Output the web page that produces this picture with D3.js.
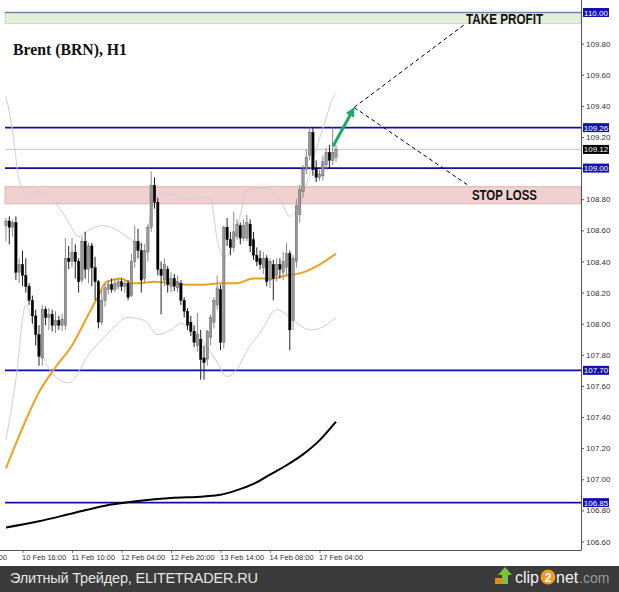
<!DOCTYPE html>
<html><head><meta charset="utf-8">
<script src="https://cdn.jsdelivr.net/npm/d3@7"></script>
<style>html,body{margin:0;padding:0;background:#fff;overflow:hidden}</style>
</head><body>
<svg id="c" width="619" height="592"></svg>
<script>
// ---- data ----
const openP = [
108.63,108.66,108.62,108.65,108.33,108.38,108.31,108.24,108.15,108.05,
107.93,107.78,108.09,108.04,108.06,107.99,108.02,107.99,107.99,108.42,
108.40,108.46,108.40,108.28,108.53,108.35,108.50,108.36,108.27,108.01,
108.15,108.22,108.25,108.22,108.24,108.27,108.24,108.26,108.18,108.40,
108.53,108.47,108.29,108.46,108.62,108.89,108.78,108.35,108.28,108.35,
108.24,108.29,108.23,108.26,108.15,108.08,108.01,107.95,107.86,107.90,
107.78,107.77,107.91,108.01,108.12,108.22,107.88,108.62,108.54,108.49,
108.56,108.63,108.55,108.55,108.64,108.54,108.44,108.42,108.36,108.42,
108.28,108.38,108.31,108.38,108.33,108.36,108.45,108.02,108.40,108.70,
108.85,108.99,109.08,109.23,109.00,108.94,108.95,109.02,109.10,109.05,
109.07];
const highP = [
108.68,108.69,108.67,108.69,108.42,108.47,108.42,108.26,108.18,108.09,
107.99,108.12,108.11,108.10,108.09,108.08,108.05,108.06,108.55,108.50,
108.55,108.51,108.42,108.56,108.59,108.52,108.52,108.43,108.28,108.22,
108.26,108.28,108.29,108.29,108.29,108.29,108.28,108.28,108.45,108.63,
108.61,108.52,108.51,108.64,108.98,108.94,108.81,108.40,108.42,108.37,
108.33,108.32,108.31,108.28,108.17,108.10,108.05,107.99,108.07,107.96,
107.86,107.96,108.06,108.17,108.31,108.25,108.63,108.68,108.59,108.72,
108.67,108.65,108.67,108.70,108.67,108.59,108.49,108.47,108.46,108.44,
108.42,108.41,108.42,108.42,108.46,108.52,108.47,108.44,108.80,108.89,
109.02,109.12,109.26,109.26,109.05,108.99,109.08,109.13,109.15,109.26,
109.15];
const lowP = [
108.53,108.51,108.56,108.28,108.26,108.24,108.20,108.12,108.00,107.86,
107.73,107.73,107.99,107.96,107.95,107.94,107.96,107.95,107.96,108.35,
108.36,108.29,108.20,108.26,108.29,108.26,108.24,108.15,107.97,107.99,
108.11,108.19,108.20,108.20,108.22,108.21,108.20,108.15,108.17,108.36,
108.42,108.20,108.26,108.40,108.59,108.74,108.31,108.06,108.24,108.20,
108.20,108.21,108.20,108.12,108.04,107.96,107.92,107.85,107.82,107.64,
107.64,107.73,107.86,107.97,108.09,107.83,107.84,108.50,108.44,108.46,
108.54,108.51,108.53,108.53,108.46,108.41,108.37,108.35,108.32,108.24,
108.23,108.15,108.27,108.29,108.28,108.31,107.83,107.96,108.36,108.65,
108.81,108.96,109.05,108.95,108.91,108.92,108.92,108.99,109.00,109.02,
109.04];
const closeP = [
108.66,108.62,108.65,108.33,108.38,108.31,108.24,108.15,108.05,107.93,
107.79,108.09,108.04,108.06,107.99,108.02,107.99,108.03,108.42,108.40,
108.46,108.40,108.27,108.53,108.35,108.50,108.36,108.27,108.01,108.15,
108.23,108.25,108.22,108.26,108.27,108.24,108.26,108.17,108.40,108.53,
108.47,108.28,108.47,108.62,108.89,108.78,108.35,108.31,108.38,108.25,
108.29,108.24,108.27,108.15,108.08,107.99,107.95,107.88,107.93,107.77,
107.75,107.95,108.04,108.15,108.23,107.88,108.62,108.54,108.49,108.59,
108.64,108.55,108.63,108.65,108.50,108.44,108.40,108.38,108.42,108.27,
108.40,108.29,108.38,108.35,108.40,108.45,107.96,108.42,108.76,108.86,
108.99,109.07,109.23,108.99,108.94,108.96,109.04,109.10,109.05,109.10,
109.12];

const maFastIdx = [0,5,10,15,20,25,28,30,32,35,38,40,45,50,55,60,65,70,75,80,85,90,95,100];
const maFastVal = [107.07,107.33,107.56,107.72,107.86,108.06,108.18,108.26,108.28,108.29,108.26,108.26,108.27,108.26,108.25,108.25,108.26,108.26,108.29,108.29,108.31,108.33,108.38,108.45];

const maSlowIdx = [0,10,20,30,40,50,60,65,70,75,80,85,90,95,100];
const maSlowVal = [106.69,106.73,106.78,106.83,106.86,106.88,106.89,106.90,106.93,106.97,107.03,107.09,107.16,107.25,107.37];

const bbUpIdx = [0,2,4,7,10,13,16,19,22,25,29,33,38,42,44,47,50,55,60,62,64,66,68,71,73,78,83,86,88,91,93,95,97,99,100];
const bbUpVal = [109.46,109.24,108.92,108.82,108.85,108.81,108.75,108.65,108.56,108.60,108.63,108.61,108.54,108.50,108.73,108.84,108.83,108.80,108.81,108.80,108.54,108.43,108.47,108.70,108.86,108.87,108.80,108.69,108.73,108.89,109.05,109.19,109.32,109.45,109.48];

const bbLoIdx = [0,3,6,9,12,15,19,25,31,37,42,46,50,53,57,61,64,67,70,74,77,82,86,89,92,95,100];
const bbLoVal = [107.25,107.64,108.12,107.93,107.75,107.66,107.62,107.80,107.94,108.04,108.02,107.93,107.96,108.00,107.96,107.85,107.75,107.66,107.71,107.86,107.94,108.09,108.04,107.99,107.96,107.97,108.04];

const levelLines = [109.26, 109.00, 107.70, 106.85];
const levelBoxes = [110.00, 109.26, 109.00, 107.70, 106.85];
const currentPrice = 109.12;
const takeProfitZone = [109.93, 110.00];
const stopLossZone = [108.77, 108.88];

const yTickVals = [109.80,109.60,109.40,109.20,109.00,108.80,108.60,108.40,108.20,108.00,107.80,107.60,107.40,107.20,107.00,106.80,106.60];
const xTickIdx = [-13,5,20,35,50,65,80,95];
const xTickLabels = ["10 Feb 01:00","10 Feb 16:00","11 Feb 10:00","12 Feb 04:00","12 Feb 20:00","13 Feb 14:00","14 Feb 08:00","17 Feb 04:00"];

// annotations (bar index, price)
const arrowFrom = [99.1, 109.14];
const arrowTo = [105.5, 109.39];
const tpEnd = [139.4, 109.93];
const slEnd = [140.0, 108.89];

// ---- drawing ----
const svg = d3.select('#c');
const plotL = 5, plotR = 581, plotB = 550;
const x = d3.scaleLinear().domain([0,100]).range([6,336]);
const y = d3.scaleLinear().domain([106.6,110]).range([541.5,12.5]);

svg.append('rect').attr('width',619).attr('height',592).attr('fill','#fff');
svg.append('defs').append('clipPath').attr('id','pc')
  .append('rect').attr('x',0).attr('y',0).attr('width',plotR).attr('height',plotB);
svg.select('defs').append('marker').attr('id','ah')
  .attr('viewBox','0 0 10 10').attr('refX',6).attr('refY',5)
  .attr('markerWidth',3.2).attr('markerHeight',3.2).attr('orient','auto')
  .append('path').attr('d','M0,0 L10,5 L0,10 Z').attr('fill','#1ea866');

const g = svg.append('g').attr('clip-path','url(#pc)');

// zones
g.append('rect').attr('x',plotL).attr('width',plotR-plotL)
  .attr('y',y(takeProfitZone[1])).attr('height',y(takeProfitZone[0])-y(takeProfitZone[1]))
  .attr('fill','#e3efd9').attr('stroke','#c5d3b8').attr('stroke-width',0.8);
g.append('line').attr('x1',plotL).attr('x2',plotR)
  .attr('y1',y(takeProfitZone[1])).attr('y2',y(takeProfitZone[1]))
  .attr('stroke','#7484a8').attr('stroke-width',1.6);
g.append('rect').attr('x',plotL).attr('width',plotR-plotL)
  .attr('y',y(stopLossZone[1])).attr('height',y(stopLossZone[0])-y(stopLossZone[1]))
  .attr('fill','#f1d0d0').attr('stroke','#d9a9a9').attr('stroke-width',0.8);

// current price line
g.append('line').attr('x1',plotL).attr('x2',plotR)
  .attr('y1',y(currentPrice)).attr('y2',y(currentPrice))
  .attr('stroke','#c8c8c8').attr('stroke-width',1);

// level lines
g.selectAll('line.lvl').data(levelLines).enter().append('line').attr('class','lvl')
  .attr('x1',plotL).attr('x2',plotR).attr('y1',d=>y(d)).attr('y2',d=>y(d))
  .attr('stroke','#1010a0').attr('stroke-width',1.6);

// bollinger
const lineGen = d3.line().x(d=>x(d[0])).y(d=>y(d[1])).curve(d3.curveMonotoneX);
const zip = (a,b)=>a.map((v,i)=>[v,b[i]]);
g.append('path').attr('d',lineGen(zip(bbUpIdx,bbUpVal))).attr('fill','none').attr('stroke','#cfcfcf').attr('stroke-width',1);
g.append('path').attr('d',lineGen(zip(bbLoIdx,bbLoVal))).attr('fill','none').attr('stroke','#cfcfcf').attr('stroke-width',1);

// MAs
g.append('path').attr('d',lineGen(zip(maSlowIdx,maSlowVal))).attr('fill','none').attr('stroke','#000').attr('stroke-width',2);
g.append('path').attr('d',lineGen(zip(maFastIdx,maFastVal))).attr('fill','none').attr('stroke','#f0a020').attr('stroke-width',2);

// candles
const candles = openP.map((o,i)=>({i,o,h:highP[i],l:lowP[i],c:closeP[i]}));
const cg = g.append('g');
cg.selectAll('line.w').data(candles).enter().append('line')
  .attr('x1',d=>x(d.i)).attr('x2',d=>x(d.i)).attr('y1',d=>y(d.h)).attr('y2',d=>y(d.l))
  .attr('stroke',d=>d.c>=d.o?'#8a8a8a':'#222').attr('stroke-width',1);
const bw = 2.4;
cg.selectAll('rect.b').data(candles).enter().append('rect')
  .attr('x',d=>x(d.i)-bw/2).attr('width',bw)
  .attr('y',d=>y(Math.max(d.o,d.c)))
  .attr('height',d=>Math.max(1,Math.abs(y(d.o)-y(d.c))))
  .attr('fill',d=>d.c>=d.o?'#999':'#000')
  .attr('stroke',d=>d.c>=d.o?'#555':'#000').attr('stroke-width',0.4);

// annotations
g.append('line').attr('x1',x(arrowTo[0])).attr('y1',y(arrowTo[1])).attr('x2',x(tpEnd[0])).attr('y2',y(tpEnd[1]))
  .attr('stroke','#000').attr('stroke-width',1).attr('stroke-dasharray','4,3');
g.append('line').attr('x1',x(arrowTo[0])).attr('y1',y(arrowTo[1])).attr('x2',x(slEnd[0])).attr('y2',y(slEnd[1]))
  .attr('stroke','#000').attr('stroke-width',1).attr('stroke-dasharray','4,3');
g.append('line').attr('x1',x(arrowFrom[0])).attr('y1',y(arrowFrom[1]))
  .attr('x2',x(arrowTo[0])-1.5).attr('y2',y(arrowTo[1])+3)
  .attr('stroke','#1ea866').attr('stroke-width',3).attr('marker-end','url(#ah)');

svg.append('text').attr('x',x(tpEnd[0])).attr('y',y(tpEnd[1])+0.5)
  .attr('font-family','Liberation Sans, Arial, sans-serif').attr('font-weight','bold').attr('font-size',14)
  .attr('textLength',77).attr('lengthAdjust','spacingAndGlyphs').attr('fill','#111').text('TAKE PROFIT');
svg.append('text').attr('x',x(141.2)).attr('y',y(108.80)+0.5)
  .attr('font-family','Liberation Sans, Arial, sans-serif').attr('font-weight','bold').attr('font-size',14)
  .attr('textLength',65).attr('lengthAdjust','spacingAndGlyphs').attr('fill','#111').text('STOP LOSS');

// title
svg.append('text').attr('x',13).attr('y',55)
  .attr('font-family','Liberation Serif, Times New Roman, serif').attr('font-weight','bold').attr('font-size',17)
  .attr('textLength',114).attr('lengthAdjust','spacingAndGlyphs').attr('fill','#111').text('Brent (BRN), H1');

// axes
const fontAx = 'Liberation Sans, Arial, sans-serif';
const ya = svg.append('g').attr('transform',`translate(${plotR},0)`)
  .call(d3.axisRight(y).tickValues(yTickVals).tickSize(3).tickPadding(2)
    .tickFormat(d=>levelBoxes.some(v=>Math.abs(v-d)<1e-6)?'':d3.format('.2f')(d)));
ya.select('.domain').remove();
ya.selectAll('text').attr('font-family',fontAx).attr('font-size',8).attr('fill','#333');
ya.selectAll('line').attr('stroke','#555');

const xa = svg.append('g').attr('transform',`translate(0,${plotB})`)
  .call(d3.axisBottom(x).tickValues(xTickIdx).tickSize(3).tickPadding(2).tickFormat((d,i)=>xTickLabels[i]));
xa.select('.domain').remove();
xa.selectAll('text').attr('font-family',fontAx).attr('font-size',7.5).attr('fill','#333')
  .attr('text-anchor','start').attr('x',-1);
xa.selectAll('line').attr('stroke','#777');

svg.append('line').attr('x1',plotR+0.5).attr('x2',plotR+0.5).attr('y1',0).attr('y2',plotB).attr('stroke','#555').attr('stroke-width',1);
svg.append('line').attr('x1',0).attr('x2',plotR+0.5).attr('y1',plotB+0.5).attr('y2',plotB+0.5).attr('stroke','#555').attr('stroke-width',1);

// price boxes
const boxes = levelBoxes.map(v=>({v,fill:'#1212b0'})).concat([{v:currentPrice,fill:'#000'}]);
const bx = svg.append('g');
bx.selectAll('rect').data(boxes).enter().append('rect')
  .attr('x',plotR+2).attr('y',d=>y(d.v)-4.5).attr('width',26).attr('height',9).attr('fill',d=>d.fill);
bx.selectAll('text').data(boxes).enter().append('text')
  .attr('x',plotR+15).attr('y',d=>y(d.v)+3).attr('text-anchor','middle')
  .attr('font-family',fontAx).attr('font-size',8).attr('fill','#fff').text(d=>d.v.toFixed(2));

// footer
svg.append('rect').attr('x',0).attr('y',566).attr('width',619).attr('height',26).attr('fill','#3b3b3b');
svg.append('text').attr('x',10).attr('y',582.5)
  .attr('font-family','Liberation Sans, Arial, sans-serif').attr('font-size',14.5).attr('fill','#e6e6e6')
  .attr('textLength',248).attr('lengthAdjust','spacing')
  .text('Элитный Трейдер, ELITETRADER.RU');
// clip2net logo
const lg = svg.append('g');
const lf = 'Liberation Sans, Arial, sans-serif';
lg.append('rect').attr('x',495).attr('y',578).attr('width',9).attr('height',6).attr('fill','#e8891c');
lg.append('path').attr('d','M502,584 L502,575 L498,575 L505,567 L512,575 L508,575 L508,584 Z').attr('fill','#7cc242');
lg.append('text').attr('x',515).attr('y',583).attr('font-family',lf)
  .attr('font-size',16).attr('fill','#f2f2f2').text('clip');
lg.append('circle').attr('cx',548).attr('cy',577).attr('r',7.5).attr('fill','#f29a1f');
lg.append('text').attr('x',548).attr('y',581.5).attr('text-anchor','middle').attr('font-family',lf)
  .attr('font-weight','bold').attr('font-size',12).attr('fill','#fff').text('2');
lg.append('text').attr('x',556).attr('y',583).attr('font-family',lf)
  .attr('font-size',16).attr('fill','#f2f2f2').text('net');
lg.append('text').attr('x',579).attr('y',583).attr('font-family',lf)
  .attr('font-size',14).attr('fill','#9a9a9a').text('.com');
</script>
</body></html>
